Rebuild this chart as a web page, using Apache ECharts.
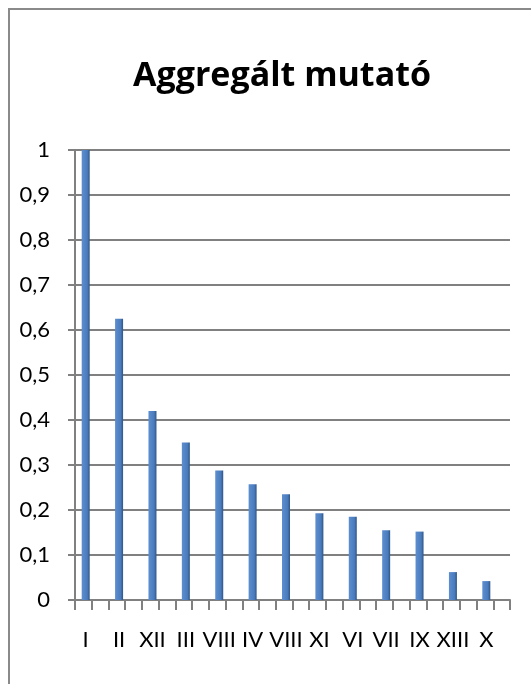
<!DOCTYPE html>
<html>
<head>
<meta charset="utf-8">
<script src="https://cdn.jsdelivr.net/npm/echarts@6/dist/echarts.min.js"></script>
<style>
    html, body { margin: 0; padding: 0; background: #fff; }
    #chart { width: 531px; height: 684px; }
</style>
</head>
<body>
<div id="chart"></div>
<script>
// data
let categories = ["I", "II", "XII", "III", "VIII", "IV", "VIII", "XI", "VI", "VII", "IX", "XIII", "X"];
let values = [1.0, 0.625, 0.42, 0.35, 0.288, 0.257, 0.235, 0.193, 0.185, 0.155, 0.152, 0.062, 0.042];
let yTicks = [0, 0.1, 0.2, 0.3, 0.4, 0.5, 0.6, 0.7, 0.8, 0.9, 1];

// tick axis has two ticks per category (excel 3d look)
let tickSlots = [];
for (let i = 0; i < categories.length * 2; i++) {
    tickSlots.push("");
}

let chart = echarts.init(document.getElementById("chart"));
let fontFamily = "Lato, 'Open Sans', sans-serif";
let gray = "#808080";

let option = {
    animation: false,
    title: {
        text: "Aggregált mutató",
        left: 277,
        textAlign: "center",
        top: 54,
        textStyle: {
            color: "#000",
            fontFamily: "'Open Sans', sans-serif",
            fontWeight: "bold",
            fontSize: 34
        }
    },
    graphic: [
        {
            type: "rect",
            shape: { x: 9, y: 9, width: 700, height: 800 },
            style: { fill: "none", stroke: "#8a8a8a", lineWidth: 2 }
        }
    ],
    grid: [
        { left: 75, right: 21, top: 150, bottom: 84 },
        { left: 69, right: 28, top: 150, bottom: 84 }
    ],
    xAxis: [
        {
            gridIndex: 0,
            type: "category",
            data: tickSlots,
            axisLine: { show: true, lineStyle: { color: gray, width: 2 } },
            axisTick: { show: true, length: 10, lineStyle: { color: gray, width: 2 } },
            axisLabel: { show: false }
        },
        {
            gridIndex: 1,
            type: "category",
            data: categories,
            axisLine: { show: false },
            axisTick: { show: false },
            axisLabel: {
                interval: 0,
                margin: 29,
                color: "#000",
                fontFamily: fontFamily,
                fontSize: 22
            }
        }
    ],
    yAxis: [
        {
            gridIndex: 0,
            type: "value",
            min: yTicks[0],
            max: yTicks[yTicks.length - 1],
            interval: 0.1,
            axisLine: { show: true, lineStyle: { color: gray, width: 2 } },
            axisTick: { show: true, length: 7, lineStyle: { color: gray, width: 2 } },
            axisLabel: {
                margin: 25,
                color: "#000",
                fontFamily: fontFamily,
                fontSize: 22,
                formatter: function (value) {
                    return String(Math.round(value * 10) / 10).replace(".", ",");
                }
            },
            splitLine: { show: true, lineStyle: { color: gray, width: 2 } }
        },
        {
            gridIndex: 1,
            type: "value",
            min: 0,
            max: 1,
            show: false
        }
    ],
    series: [
        {
            type: "bar",
            xAxisIndex: 1,
            yAxisIndex: 1,
            data: values,
            barWidth: 8,
            itemStyle: {
                color: new echarts.graphic.LinearGradient(0, 0, 1, 0, [
                    { offset: 0, color: "#5d8fd0" },
                    { offset: 0.7, color: "#4a7bbd" },
                    { offset: 1, color: "#2e5584" }
                ])
            }
        }
    ]
};
chart.setOption(option, true);
</script>
</body>
</html>
